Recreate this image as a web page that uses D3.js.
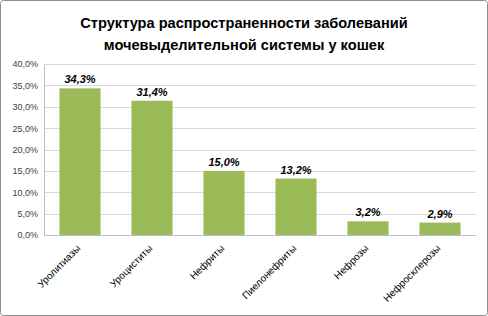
<!DOCTYPE html>
<html><head><meta charset="utf-8">
<script src="https://cdn.jsdelivr.net/npm/d3@7"></script>
<style>body{margin:0;background:#fff}svg{display:block}</style>
</head><body>
<script>
const categories = ["Уролитиазы","Уроциститы","Нефриты","Пиелонефриты","Нефрозы","Нефросклерозы"];
const values = [34.3, 31.4, 15.0, 13.2, 3.2, 2.9];
const yTicks = [0,5,10,15,20,25,30,35,40];
const titleLines = ["Структура распространенности заболеваний","мочевыделительной системы у кошек"];

(function(){
const W=488,H=316;
const svg=d3.select("body").append("svg").attr("width",W).attr("height",H);
svg.append("rect").attr("x",0.5).attr("y",0.5).attr("width",W-1).attr("height",H-1)
  .attr("rx",3).attr("fill","#fff").attr("stroke","#8c8c8c");
const font="'Liberation Sans', Arial, sans-serif";
svg.selectAll("text.title").data(titleLines).enter().append("text")
  .attr("x",244).attr("y",(d,i)=>28+i*22).attr("text-anchor","middle")
  .attr("font-family",font).attr("font-weight","bold").attr("font-size",14.6).attr("fill","#000")
  .text(d=>d);

const pl=44,pr=476,pt=64,pb=235;
const x=d3.scaleBand().domain(categories).range([pl,pr]).paddingInner(0.43).paddingOuter(0.215);
const y=d3.scaleLinear().domain([0,40]).range([pb,pt]);
const fmt=v=>d3.format(".1f")(v).replace(".",",")+"%";

svg.append("g").selectAll("line").data(yTicks.filter(t=>t>0)).enter().append("line")
  .attr("x1",pl).attr("x2",pr).attr("y1",d=>Math.round(y(d))+0.5).attr("y2",d=>Math.round(y(d))+0.5)
  .attr("stroke","#d9d9d9");
const ax=svg.append("g").attr("transform",`translate(${pl},0)`)
  .call(d3.axisLeft(y).tickValues(yTicks).tickSize(0).tickPadding(6).tickFormat(fmt));
ax.select(".domain").attr("stroke","#bfbfbf");
ax.selectAll("text").attr("font-family",font).attr("font-size",9).attr("fill","#404040");

svg.append("g").selectAll("rect").data(values).enter().append("rect")
  .attr("x",(d,i)=>x(categories[i])).attr("width",x.bandwidth())
  .attr("y",d=>y(d)).attr("height",d=>pb-y(d)).attr("fill","#9bbb59");

svg.append("line").attr("x1",pl).attr("x2",pr).attr("y1",pb+0.5).attr("y2",pb+0.5).attr("stroke","#bfbfbf");

svg.append("g").selectAll("text").data(values).enter().append("text")
  .attr("x",(d,i)=>x(categories[i])+x.bandwidth()/2).attr("y",d=>y(d)-5)
  .attr("text-anchor","middle").attr("font-family",font).attr("font-weight","bold")
  .attr("font-style","italic").attr("font-size",11).attr("fill","#000").text(fmt);

svg.append("g").selectAll("text").data(categories).enter().append("text")
  .attr("transform",d=>`translate(${x(d)+x.bandwidth()/2+1},${pb+14}) rotate(-45)`)
  .attr("text-anchor","end").attr("font-family",font).attr("font-size",10).attr("fill","#000")
  .text(d=>d);
})();
</script>
</body></html>
